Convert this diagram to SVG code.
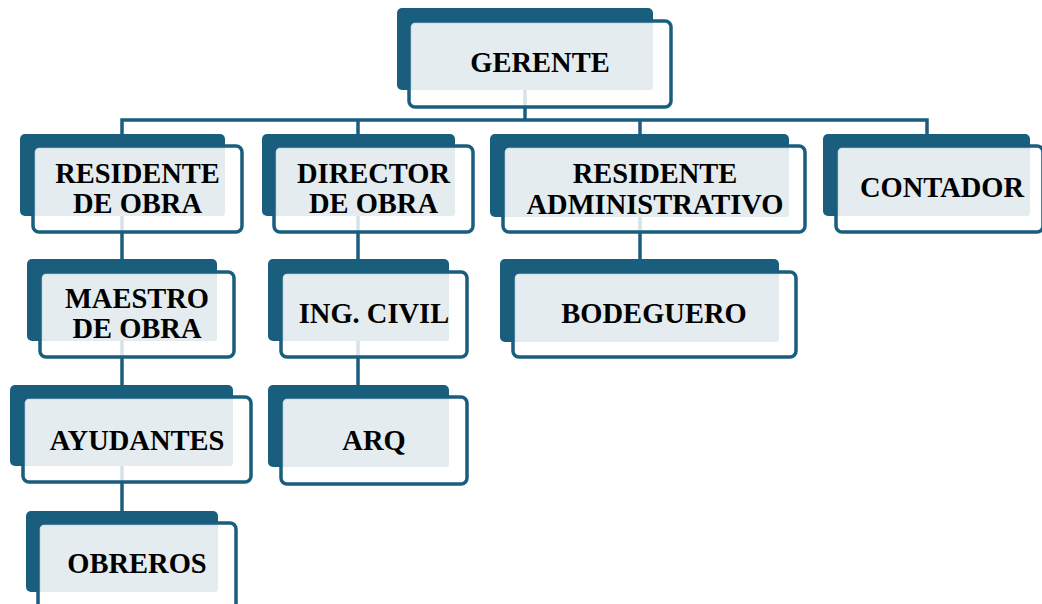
<svg xmlns="http://www.w3.org/2000/svg" width="1042" height="604" viewBox="0 0 1042 604">
<style>
.dk{fill:#1A5E7E}
.ol{fill:#fff;fill-opacity:.82;stroke:#1A5E7E;stroke-width:3.5}
.lt{fill:#E4ECF0}
.t{font-family:"Liberation Serif","Times New Roman",serif;font-weight:bold;font-size:28.5px;fill:#000;text-anchor:middle}
.c{fill:none;stroke:#1A5E7E;stroke-width:3.5}
</style>
<rect width="1042" height="604" fill="#fff"/>
<g id="connectors" class="c">
<path d="M525 90V120"/>
<path d="M122 134V120H927V134"/>
<path d="M358 120V134"/>
<path d="M640 120V134"/>
<path d="M122 216V259"/>
<path d="M122 341V385"/>
<path d="M122 466V511"/>
<path d="M358 216V259"/>
<path d="M358 341V385"/>
<path d="M640 217V259"/>
</g>
<g id="gerente">
<rect class="dk" x="397" y="8" width="256" height="82" rx="5"/>
<rect class="ol" x="409" y="21" width="262" height="86" rx="6"/>
<rect class="lt" x="412" y="24" width="241" height="66" rx="3"/>
<text class="t" x="540" y="72">GERENTE</text>
</g>
<g id="residente-obra">
<rect class="dk" x="20" y="134" width="205" height="82" rx="5"/>
<rect class="ol" x="33" y="146" width="209" height="86" rx="6"/>
<rect class="lt" x="36" y="149" width="189" height="67" rx="3"/>
<text class="t" x="137.5" y="183">RESIDENTE</text>
<text class="t" x="137.5" y="213">DE OBRA</text>
</g>
<g id="director-obra">
<rect class="dk" x="262" y="134" width="193" height="82" rx="5"/>
<rect class="ol" x="274" y="146" width="199" height="86" rx="6"/>
<rect class="lt" x="277" y="149" width="178" height="67" rx="3"/>
<text class="t" x="373.5" y="183">DIRECTOR</text>
<text class="t" x="373.5" y="213">DE OBRA</text>
</g>
<g id="residente-admin">
<rect class="dk" x="490" y="134" width="299" height="83" rx="5"/>
<rect class="ol" x="503" y="146" width="302" height="86" rx="6"/>
<rect class="lt" x="506" y="149" width="283" height="68" rx="3"/>
<text class="t" x="655" y="183">RESIDENTE</text>
<text class="t" x="655" y="214">ADMINISTRATIVO</text>
</g>
<g id="contador">
<rect class="dk" x="823" y="134" width="207" height="82" rx="5"/>
<rect class="ol" x="836" y="146" width="207" height="86" rx="6"/>
<rect class="lt" x="839" y="149" width="191" height="67" rx="3"/>
<text class="t" x="942" y="197">CONTADOR</text>
</g>
<g id="maestro-obra">
<rect class="dk" x="27" y="259" width="190" height="82" rx="5"/>
<rect class="ol" x="40" y="272" width="194" height="85" rx="6"/>
<rect class="lt" x="43" y="275" width="174" height="66" rx="3"/>
<text class="t" x="137" y="308">MAESTRO</text>
<text class="t" x="137" y="338">DE OBRA</text>
</g>
<g id="ing-civil">
<rect class="dk" x="268" y="259" width="181" height="82" rx="5"/>
<rect class="ol" x="281" y="272" width="186" height="85" rx="6"/>
<rect class="lt" x="284" y="275" width="165" height="66" rx="3"/>
<text class="t" x="374" y="323">ING. CIVIL</text>
</g>
<g id="bodeguero">
<rect class="dk" x="500" y="259" width="279" height="83" rx="5"/>
<rect class="ol" x="513" y="272" width="283" height="85" rx="6"/>
<rect class="lt" x="516" y="275" width="263" height="67" rx="3"/>
<text class="t" x="654" y="323">BODEGUERO</text>
</g>
<g id="ayudantes">
<rect class="dk" x="10" y="385" width="223" height="81" rx="5"/>
<rect class="ol" x="23" y="397" width="228" height="85" rx="6"/>
<rect class="lt" x="26" y="400" width="207" height="66" rx="3"/>
<text class="t" x="137" y="450">AYUDANTES</text>
</g>
<g id="arq">
<rect class="dk" x="268" y="385" width="181" height="82" rx="5"/>
<rect class="ol" x="281" y="397" width="186" height="87" rx="6"/>
<rect class="lt" x="284" y="400" width="165" height="67" rx="3"/>
<text class="t" x="374" y="450">ARQ</text>
</g>
<g id="obreros">
<rect class="dk" x="26" y="511" width="192" height="81" rx="5"/>
<rect class="ol" x="38" y="523" width="198" height="86" rx="6"/>
<rect class="lt" x="41" y="526" width="177" height="66" rx="3"/>
<text class="t" x="137" y="573">OBREROS</text>
</g>
</svg>
